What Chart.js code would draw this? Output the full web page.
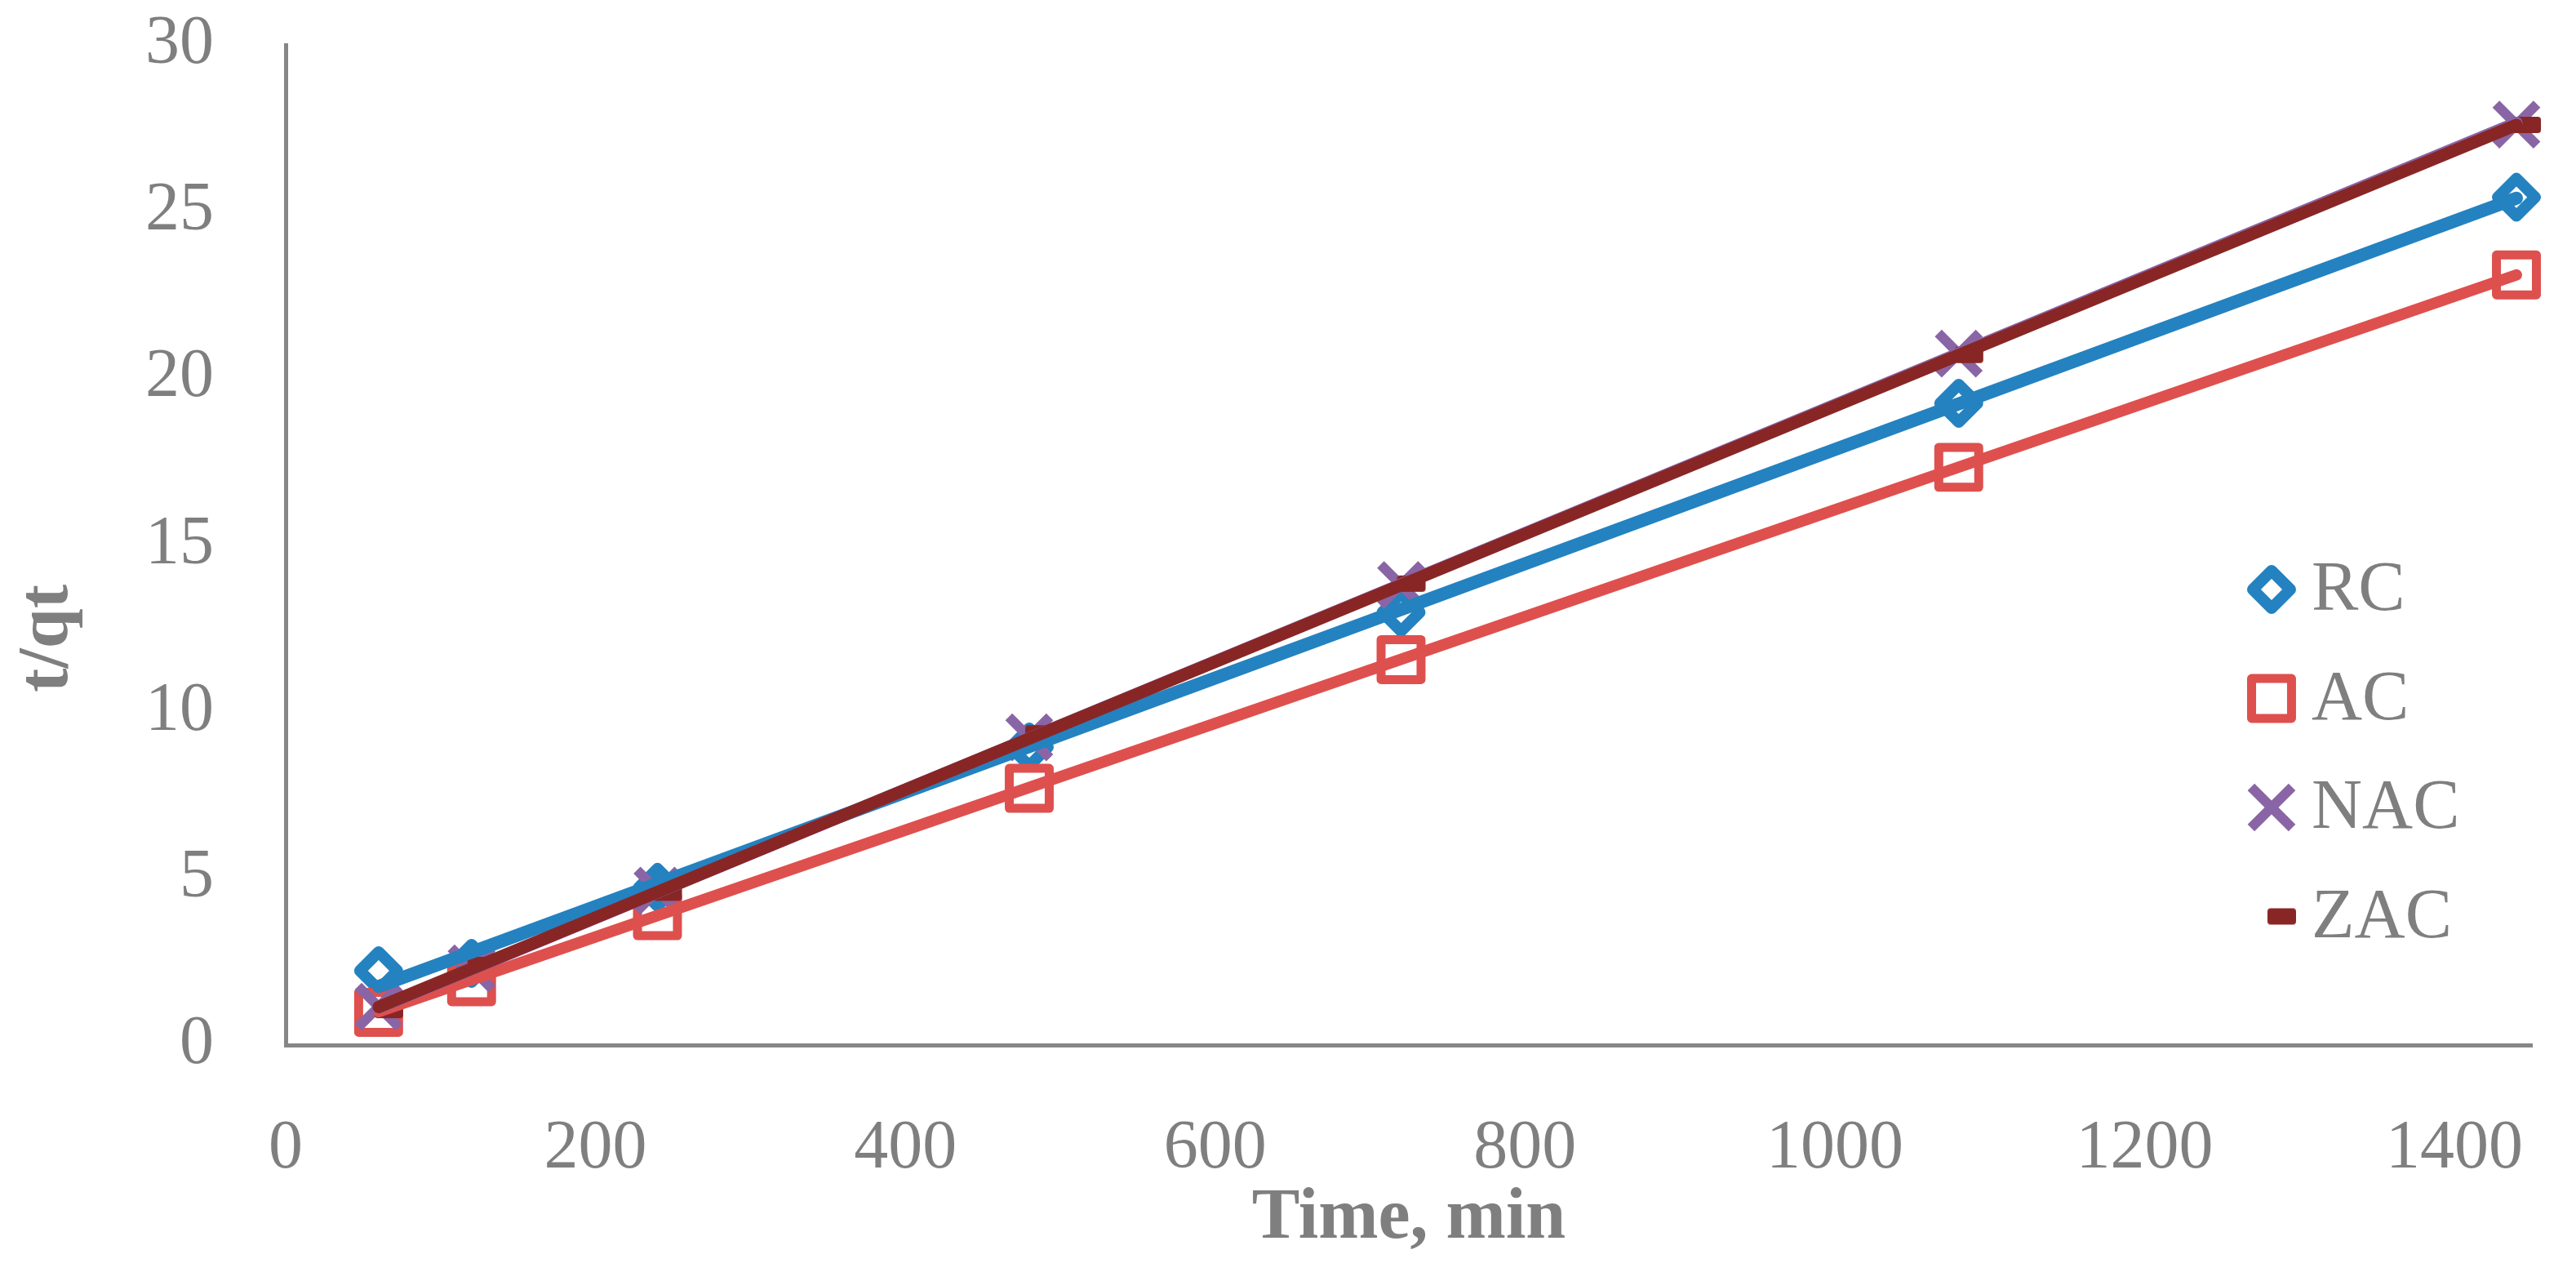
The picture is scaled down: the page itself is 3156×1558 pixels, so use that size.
<!DOCTYPE html>
<html>
<head>
<meta charset="utf-8">
<script src="https://cdn.jsdelivr.net/npm/chart.js@4.4.1/dist/chart.umd.min.js"></script>
<style>
  body { margin: 0; background: #fff; }
  #wrap { width: 3156px; height: 1558px; }
</style>
</head>
<body>
<div id="wrap"><canvas id="chart"></canvas></div>
<script>
// sampling times (min) and t/qt values
const times = [60, 120, 240, 480, 720, 1080, 1440];
const rcValues = [2.23, 2.45, 4.73, 8.94, 12.98, 19.25, 25.43];
const acValues = [0.98, 1.9, 3.88, 7.7, 11.56, 17.33, 23.1];
const nacValues = [1.15, 2.3, 4.63, 9.23, 13.8, 20.74, 27.61];
const zacValues = [1.05, 2.4, 4.57, 9.35, 13.84, 20.7, 27.6];

// linear trend lines, ends
const trendTimes = [60, 1440];
const rcTrend = [1.76, 25.4];
const acTrend = [1.0, 23.1];
const nacTrend = [1.12, 27.66];
const zacTrend = [1.14, 27.6];

const seriesNames = ["RC", "AC", "NAC", "ZAC"];

const gray = "#7f7f7f";
const fontFamily = "'Liberation Serif', serif";

const toPoints = (xs, ys) => xs.map((x, i) => ({ x: x, y: ys[i] }));

// Excel style short dash marker, sits a bit right of the point
const dash = document.createElement("canvas");
dash.width = 72;
dash.height = 22;
(function () {
  const c = dash.getContext("2d");
  c.fillStyle = "#882626";
  c.beginPath();
  c.roundRect(31, 1, 35, 20, 4);
  c.fill();
})();

function markerSet(label, values, style, radius, width, color, order) {
  return {
    label: label,
    data: toPoints(times, values),
    showLine: false,
    pointStyle: style,
    pointRadius: radius,
    pointHoverRadius: radius,
    pointBorderWidth: width,
    pointHoverBorderWidth: width,
    pointBorderColor: color,
    pointBackgroundColor: "rgba(0,0,0,0)",
    clip: false,
    order: order,
  };
}

function trendSet(values, color, width, order) {
  return {
    label: "",
    isTrend: true,
    data: toPoints(trendTimes, values),
    showLine: true,
    borderColor: color,
    borderWidth: width,
    borderCapStyle: "round",
    pointRadius: 0,
    pointHoverRadius: 0,
    clip: false,
    order: order,
  };
}

const datasets = [
  markerSet(seriesNames[0], rcValues, "rectRot", 23, 14, "#2482c0", 8),
  markerSet(seriesNames[1], acValues, "rect", 34.6, 11, "#de504e", 7),
  markerSet(seriesNames[2], nacValues, "crossRot", 35.5, 12, "#8a65a5", 6),
  markerSet(seriesNames[3], zacValues, dash, 20, 0, "#882626", 5),
  trendSet(rcTrend, "#2482c0", 16, 4),
  trendSet(acTrend, "#de504e", 14, 3),
  trendSet(nacTrend, "#8a65a5", 15, 2),
  trendSet(zacTrend, "#882626", 15, 1),
];

// legend inside the plot on the right + rotated y title
const extras = {
  id: "extras",
  beforeDatasetDraw(chart) {
    chart.ctx.lineJoin = "round";
  },
  afterDraw(chart) {
    const ctx = chart.ctx;
    ctx.save();
    ctx.lineJoin = "round";
    chart.data.datasets.filter(d => !d.isTrend).forEach((d, i) => {
      const y = 722 + i * 133.5;
      ctx.strokeStyle = d.pointBorderColor;
      ctx.lineWidth = d.pointBorderWidth;
      ctx.fillStyle = "rgba(0,0,0,0)";
      Chart.helpers.drawPoint(ctx, {
        pointStyle: d.pointStyle,
        radius: d.pointRadius,
        rotation: 0,
        borderWidth: d.pointBorderWidth,
      }, 2783, y);
      ctx.fillStyle = gray;
      ctx.font = "86px " + fontFamily;
      ctx.textAlign = "left";
      ctx.textBaseline = "alphabetic";
      ctx.fillText(d.label, 2832, y + 25);
    });

    ctx.translate(82, 782);
    ctx.rotate(-Math.PI / 2);
    ctx.font = "bold 88px " + fontFamily;
    ctx.fillStyle = gray;
    ctx.textAlign = "center";
    ctx.textBaseline = "alphabetic";
    ctx.fillText("t/qt", 0, 0);
    ctx.restore();
  },
};

new Chart(document.getElementById("chart"), {
  type: "scatter",
  data: { datasets: datasets },
  plugins: [extras],
  options: {
    responsive: true,
    maintainAspectRatio: false,
    devicePixelRatio: 1,
    animation: false,
    layout: { padding: { top: 55, right: 54, left: 0, bottom: 0 } },
    plugins: {
      legend: { display: false },
      tooltip: { enabled: false },
    },
    scales: {
      x: {
        type: "linear",
        min: 0,
        max: 1450,
        grid: { display: false, drawTicks: false },
        border: { display: true, color: "#868686", width: 5 },
        ticks: {
          stepSize: 200,
          includeBounds: false,
          maxRotation: 0,
          padding: 78,
          color: gray,
          font: { family: fontFamily, size: 84 },
          callback: v => String(v),
        },
        title: {
          display: true,
          text: "Time, min",
          color: gray,
          font: { family: fontFamily, size: 88, weight: "bold" },
          padding: { top: 0, bottom: 12 },
        },
        afterFit: s => {
          s.height = 278;
          s.paddingLeft = 0;
          s.paddingRight = 0;
        },
      },
      y: {
        min: 0,
        max: 30,
        grid: { display: false, drawTicks: false },
        border: { display: true, color: "#868686", width: 5 },
        ticks: {
          stepSize: 5,
          padding: 88,
          color: gray,
          font: { family: fontFamily, size: 84 },
          callback: v => String(v),
        },
        afterFit: s => {
          s.width = 350;
          s.paddingTop = 0;
          s.paddingBottom = 0;
        },
      },
    },
  },
});
</script>
</body>
</html>
